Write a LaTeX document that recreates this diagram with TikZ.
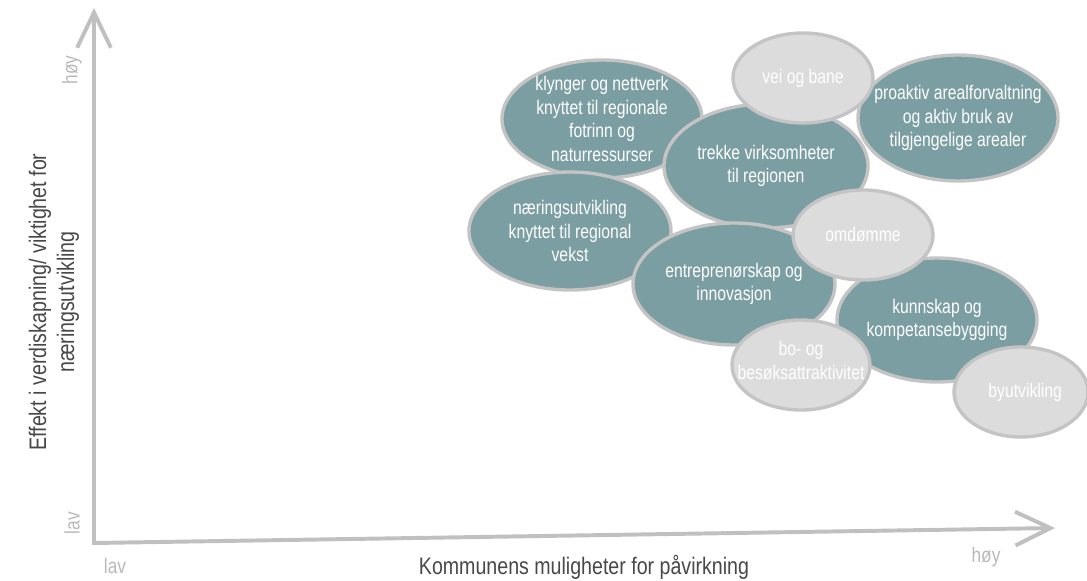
\documentclass[tikz,border=0pt]{standalone}
\usepackage{fontspec}
\setmainfont{Liberation Sans}[FakeStretch=0.8]
\newfontfamily\titlefont{Liberation Sans}[FakeStretch=0.82]
\usetikzlibrary{arrows.meta}
\definecolor{tealfill}{RGB}{123,158,163}
\definecolor{softfill}{RGB}{220,220,220}
\definecolor{rimgrey}{RGB}{196,196,196}
\definecolor{axisgrey}{RGB}{192,192,192}
\definecolor{labelgrey}{RGB}{185,185,185}
\definecolor{titlegrey}{RGB}{72,72,72}
\tikzset{
  every picture/.style={
    x=0.025cm, y=-0.025cm,
    >={Straight Barb[length=25pt, width=24pt]}
  },
  tealbubble/.style={draw=rimgrey, line width=2.4pt, fill=tealfill},
  softbubble/.style={draw=rimgrey, line width=2.4pt, fill=softfill},
  bubbletext/.style={
    text=white, align=center, inner sep=0pt,
    font=\fontsize{14}{16.7}\selectfont
  },
  axisline/.style={draw=axisgrey, line width=2.8pt},
  endlabel/.style={text=labelgrey, font=\titlefont\fontsize{15}{17}\selectfont},
  axistitle/.style={
    text=titlegrey, align=center,
    font=\titlefont\fontsize{17}{20}\selectfont
  }
}
\begin{document}
\begin{tikzpicture}
    \useasboundingbox (0,0) rectangle (1087,580);
    % axes
    \coordinate (origin) at (94,543);
    \coordinate (ytip) at (94,8);
    \coordinate (xtip) at (1055,528);
    \draw [axisline,<->] (ytip) -- (origin) -- (xtip);
    \node [endlabel,rotate=90] (yhigh) at (72,70) {høy};
    \node [endlabel,rotate=90] (ylow) at (72,523) {lav};
    \node [endlabel] (xlow) at (115,566) {lav};
    \node [endlabel] (xhigh) at (986,557) {høy};
    \node [axistitle,rotate=90] (ytitle) at (54,302)
      {Effekt i verdiskapning/ viktighet for\\næringsutvikling};
    \node [axistitle] (xtitle) at (584,567) {Kommunens muligheter for påvirkning};
    % bubbles
    \draw [tealbubble] (602,119) ellipse [x radius=100, y radius=59]
      node [bubbletext] (cluster) {klynger og nettverk\\knyttet til regionale\\fotrinn og\\naturressurser};
    \draw [tealbubble] (766,166) ellipse [x radius=102, y radius=62]
      node [bubbletext] (attract) {trekke virksomheter\\til regionen};
    \draw [tealbubble] (570,231) ellipse [x radius=101, y radius=59]
      node [bubbletext] (growth) {næringsutvikling\\knyttet til regional\\vekst};
    \draw [tealbubble] (734,284) ellipse [x radius=101, y radius=61]
      node [bubbletext] (entre) {entreprenørskap og\\innovasjon};
    \draw [tealbubble] (937,320) ellipse [x radius=100, y radius=62]
      node [bubbletext] (skills) {kunnskap og\\kompetansebygging};
    \draw [tealbubble] (958,118) ellipse [x radius=100, y radius=63]
      node [bubbletext] (land) {proaktiv arealforvaltning\\og aktiv bruk av\\tilgjengelige arealer};
    \draw [softbubble] (803,78) ellipse [x radius=70, y radius=45]
      node [bubbletext] (roads) {vei og bane};
    \draw [softbubble] (863,235) ellipse [x radius=70, y radius=45]
      node [bubbletext] (image) {omdømme};
    \draw [softbubble] (801,365) ellipse [x radius=69, y radius=45]
      node [bubbletext,yshift=3pt] (living) {bo- og\\besøksattraktivitet};
    \draw [softbubble] (1021,392) ellipse [x radius=67, y radius=45]
      node [bubbletext,xshift=3pt] (urban) {byutvikling};
\end{tikzpicture}
\end{document}
